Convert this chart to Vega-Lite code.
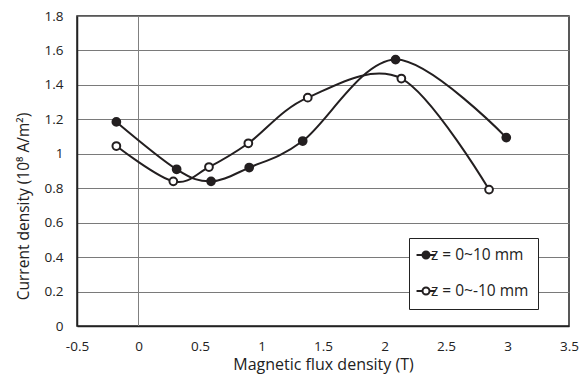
{
  "$schema": "https://vega.github.io/schema/vega-lite/v6.json",
  "width": 492,
  "height": 310,
  "autosize": "none",
  "padding": {"left": 77, "top": 16, "right": 10, "bottom": 50},
  "config": {
    "font": "Open Sans",
    "view": {"stroke": "#222222", "strokeWidth": 1.5},
    "background": "white"
  },
  "data": {
    "values": [
      {"B": -0.18, "J": 1.185, "series": "z = 0~10 mm"},
      {"B": 0.31, "J": 0.91, "series": "z = 0~10 mm"},
      {"B": 0.59, "J": 0.84, "series": "z = 0~10 mm"},
      {"B": 0.90, "J": 0.92, "series": "z = 0~10 mm"},
      {"B": 1.335, "J": 1.074, "series": "z = 0~10 mm"},
      {"B": 2.09, "J": 1.547, "series": "z = 0~10 mm"},
      {"B": 2.99, "J": 1.094, "series": "z = 0~10 mm"},
      {"B": -0.18, "J": 1.045, "series": "z = 0~-10 mm"},
      {"B": 0.283, "J": 0.84, "series": "z = 0~-10 mm"},
      {"B": 0.573, "J": 0.923, "series": "z = 0~-10 mm"},
      {"B": 0.893, "J": 1.061, "series": "z = 0~-10 mm"},
      {"B": 1.376, "J": 1.326, "series": "z = 0~-10 mm"},
      {"B": 2.137, "J": 1.437, "series": "z = 0~-10 mm"},
      {"B": 2.85, "J": 0.792, "series": "z = 0~-10 mm"}
    ]
  },
  "encoding": {
    "x": {
      "field": "B", "type": "quantitative",
      "scale": {"domain": [-0.5, 3.5], "nice": false, "zero": false},
      "axis": {
        "title": "Magnetic flux density (T)",
        "values": [-0.5, 0, 0.5, 1, 1.5, 2, 2.5, 3, 3.5],
        "format": "~g", "labelExpr": "replace(datum.label, '\u2212', '-')",
        "grid": false, "ticks": false,
        "domainColor": "#222222", "domainWidth": 1.5,
        "labelFontSize": 13.5, "labelColor": "#222222", "labelPadding": 13,
        "labelFlush": false, "labelOverlap": false,
        "titleFontSize": 16, "titleFontWeight": "normal", "titleColor": "#222222", "titlePadding": 4
      }
    },
    "y": {
      "field": "J", "type": "quantitative",
      "scale": {"domain": [0, 1.8], "nice": false},
      "axis": {
        "title": "Current density (10⁸ A/m²)",
        "values": [0, 0.2, 0.4, 0.6, 0.8, 1, 1.2, 1.4, 1.6, 1.8],
        "format": "~g", "grid": true, "gridColor": "#7a7a7a", "gridWidth": 1.2, "gridOpacity": 1,
        "ticks": false,
        "domainColor": "#222222", "domainWidth": 1.5,
        "labelFontSize": 13.5, "labelColor": "#222222", "labelPadding": 14,
        "labelFlush": false, "labelOverlap": false,
        "titleFontSize": 15.5, "titleFontWeight": "normal", "titleColor": "#222222", "titlePadding": 13,
        "titleY": 190
      }
    }
  },
  "layer": [
    {
      "mark": {"type": "rule", "color": "#808080", "strokeWidth": 1},
      "encoding": {
        "x": {"datum": 0, "type": "quantitative"},
        "y": {"value": 0},
        "y2": {"value": 310}
      }
    },
    {
      "mark": {"type": "line", "interpolate": "cardinal", "tension": 0, "color": "#231f20", "strokeWidth": 2},
      "encoding": {
        "detail": {"field": "series"}
      }
    },
    {
      "mark": {"type": "point", "shape": "circle", "size": 60, "stroke": "#231f20", "strokeWidth": 2, "opacity": 1},
      "encoding": {
        "fill": {
          "field": "series", "type": "nominal",
          "scale": {"domain": ["z = 0~10 mm", "z = 0~-10 mm"], "range": ["#231f20", "white"]},
          "legend": {
            "title": null,
            "orient": "none",
            "legendX": 332,
            "legendY": 222,
            "strokeColor": "#222222",
            "fillColor": "white",
            "padding": 9,
            "rowPadding": 19,
            "labelFontSize": 15.5,
            "labelColor": "#222222",
            "labelOffset": -3,
            "symbolType": "M-1.35,0H-0.5M0.5,0H1.35M0.5,0A0.5,0.5,0,1,1,-0.5,0A0.5,0.5,0,1,1,0.5,0",
            "symbolSize": 196,
            "symbolStrokeColor": "#231f20",
            "symbolStrokeWidth": 2
          }
        }
      }
    }
  ]
}
